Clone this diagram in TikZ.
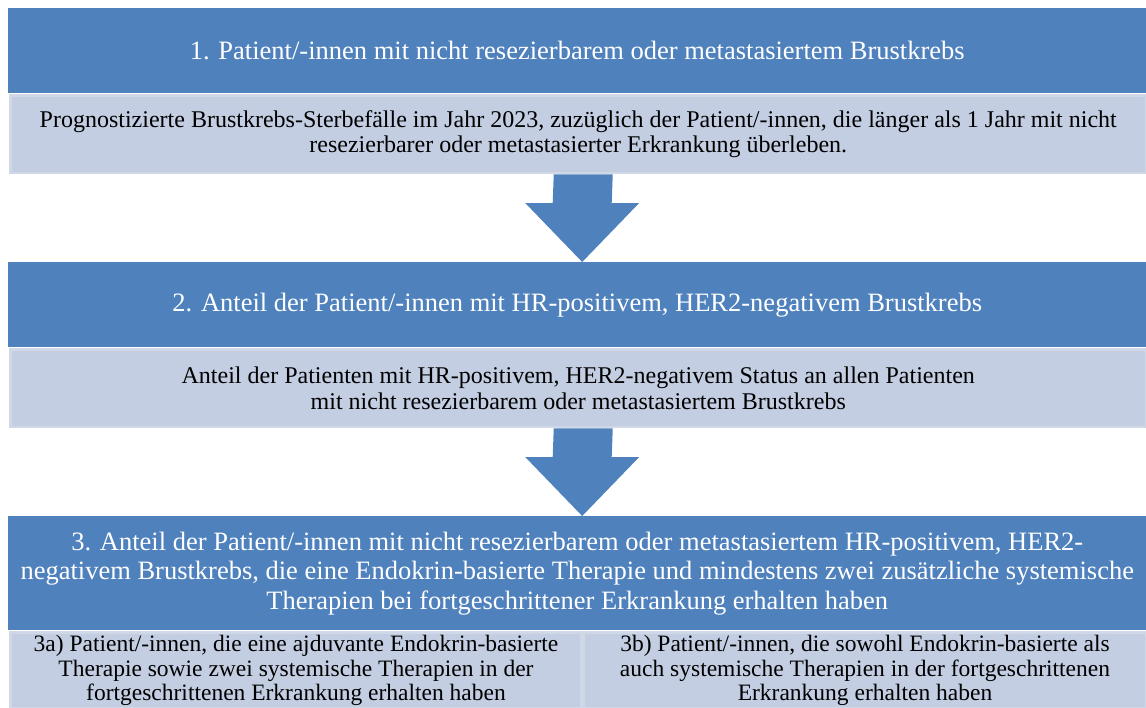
\documentclass[tikz,border=0pt]{standalone}
\usepackage{fontspec}
\setmainfont{Liberation Serif}
\usetikzlibrary{calc}
\definecolor{headblue}{HTML}{4F81BD}
\definecolor{bodyfill}{HTML}{C3CEE2}
\definecolor{bodyedge}{HTML}{D0D8E8}
\tikzset{
  headbox/.style={anchor=north west, fill=headblue, draw=none, text=white,
    align=center, inner sep=0pt, font=\fontsize{26.5}{29.5}\selectfont},
  bodybox/.style={anchor=north west, fill=bodyfill, draw=bodyedge, line width=2.5pt,
    align=center, inner sep=0pt, font=\fontsize{24}{25.5}\selectfont},
  subbox/.style={bodybox, font=\fontsize{23.5}{24.5}\selectfont},
  downarrow/.style={fill=headblue, draw=none}
}
\begin{document}
\begin{tikzpicture}[x=1pt,y=-1pt]
\useasboundingbox (0,0) rectangle (1146,707);

% stage 1
\node[headbox, minimum width=1138pt, minimum height=85pt] (h1) at (8,8)
  {1. Patient/-innen mit nicht resezierbarem oder metastasiertem Brustkrebs};
\node[bodybox, minimum width=1135.5pt, minimum height=77.5pt] (b1) at (9.25,94.25)
  {Prognostizierte Brustkrebs-Sterbefälle im Jahr 2023, zuzüglich der Patient/-innen, die länger als 1 Jahr mit nicht\\
   resezierbarer oder metastasierter Erkrankung überleben.};

% stage 2
\node[headbox, minimum width=1138pt, minimum height=85pt] (h2) at (8,262)
  {2. Anteil der Patient/-innen mit HR-positivem, HER2-negativem Brustkrebs};
\node[bodybox, minimum width=1135.5pt, minimum height=77.5pt] (b2) at (9.25,348.25)
  {Anteil der Patienten mit HR-positivem, HER2-negativem Status an allen Patienten\\
   mit nicht resezierbarem oder metastasiertem Brustkrebs};

% stage 3
\node[headbox, minimum width=1138pt, minimum height=114pt] (h3) at (8,516)
  {3. Anteil der Patient/-innen mit nicht resezierbarem oder metastasiertem HR-positivem, HER2-\\
   negativem Brustkrebs, die eine Endokrin-basierte Therapie und mindestens zwei zusätzliche systemische\\
   Therapien bei fortgeschrittener Erkrankung erhalten haben};
\node[subbox, minimum width=571pt, minimum height=76pt] (b3a) at (9.25,631.25)
  {3a) Patient/-innen, die eine ajduvante Endokrin-basierte\\
   Therapie sowie zwei systemische Therapien in der\\
   fortgeschrittenen Erkrankung erhalten haben};
\node[subbox, minimum width=562pt, minimum height=76pt] (b3b) at (582.75,631.25)
  {3b) Patient/-innen, die sowohl Endokrin-basierte als\\
   auch systemische Therapien in der fortgeschrittenen\\
   Erkrankung erhalten haben};

% block arrows between the stages
\foreach \src/\dst in {b1/h2, b2/h3}{
  \coordinate (top) at ($(\src.south)+(5,0)$);
  \coordinate (tip) at ($(\dst.north)+(5,0)$);
  \fill[downarrow] ($(top)+(-29.5,0)$) -- ($(top)+(29.5,0)$)
    -- ($(tip)+(29.5,-59)$) -- ($(tip)+(57,-59)$) -- (tip)
    -- ($(tip)+(-57,-59)$) -- ($(tip)+(-29.5,-59)$) -- cycle;
}
\end{tikzpicture}
\end{document}
